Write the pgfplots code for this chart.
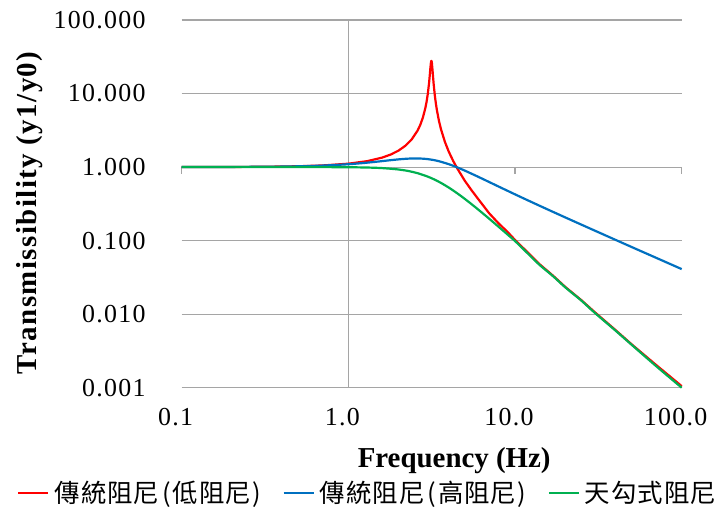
\documentclass[border=0pt]{standalone}
\usepackage{pgfplots}
\pgfplotsset{compat=1.18}
\usepackage{fontspec}
\setmainfont{Liberation Serif}
\newfontfamily\cjk[LetterSpace=4]{Noto Sans CJK TC}
\newfontfamily\tickfont[LetterSpace=5]{Liberation Serif}
\newfontfamily\ylabfont[LetterSpace=5]{Liberation Serif}
\definecolor{cred}{RGB}{255,0,0}
\definecolor{cblue}{RGB}{0,112,192}
\definecolor{cgreen}{RGB}{0,176,80}
\definecolor{cgrid}{RGB}{165,165,165}
\newcommand{\lt}[1]{\makebox[228bp][l]{#1}}
\begin{document}
\begin{tikzpicture}
\useasboundingbox (-181.7bp,-120.3bp) rectangle (540.3bp,387.7bp);
\begin{axis}[
  at={(0,0)}, anchor=south west, scale only axis,
  width=500bp, height=367.7bp,
  xmode=log, ymode=log,
  xmin=0.1, xmax=100, ymin=0.001, ymax=100,
  clip=false,
  axis line style={draw=none},
  tick style={draw=none},
  xtick={0.1,1,10,100}, xticklabels={0.1,1.0,10.0,100.0},
  ytick={0.001,0.01,0.1,1,10,100},
  yticklabels={0.001,0.010,0.100,1.000,10.000,100.000},
  ymajorgrids,
  major grid style={cgrid, line width=1.1bp},
  extra x ticks={1}, extra x tick labels={},
  extra x tick style={grid=major, tick style={draw=none}},
  xticklabel style={font=\tickfont\fontsize{26}{26}\selectfont, anchor=north, inner sep=0pt, yshift=-20bp, xshift=-6bp},
  yticklabel style={font=\tickfont\fontsize{26}{26}\selectfont, anchor=east, inner sep=0pt, xshift=-36bp},
  xlabel={Frequency (Hz)},
  xlabel style={font=\bfseries\fontsize{29}{29}\selectfont, at={(axis description cs:0.545,-0.198)}, anchor=center},
  ylabel={Transmissibility (y1/y0)},
  ylabel style={font=\ylabfont\bfseries\fontsize{29}{29}\selectfont, at={(axis description cs:-0.305,0.4755)}, anchor=center},
  legend columns=3,
  legend image code/.code={\draw[#1, line width=2.2bp] (0bp,0bp) -- (30bp,0bp);},
  legend style={at={(axis description cs:-0.329,-0.2853)}, anchor=west, draw=none, fill=none, inner sep=0pt,
    font=\cjk\fontsize{25.5}{25.5}\selectfont,
    nodes={inner xsep=0bp, inner ysep=0pt},
    /tikz/every odd column/.append style={column sep=5bp},
    /tikz/every even column/.append style={column sep=0bp}},
  every axis plot/.append style={line width=2.2bp, line join=round},
]
\draw[cgrid, line width=1.1bp] (axis cs:0.1,1) -- ([yshift=-7bp]axis cs:0.1,1);
\draw[cgrid, line width=1.1bp] (axis cs:10,1) -- ([yshift=-7bp]axis cs:10,1);
\draw[cgrid, line width=1.1bp] (axis cs:100,1) -- ([yshift=-7bp]axis cs:100,1);
\addplot[cred] coordinates {
(0.1,1.001) (0.2,1.004) (0.3,1.009) (0.5,1.026) (0.7,1.052) (1.0,1.112) (1.3,1.205) (1.6,1.348) (1.8,1.485) (2.0,1.675) (2.2,1.952) (2.4,2.384) (2.6,3.124) (2.7,3.744) (2.8,4.710) (2.9,6.41) (2.95,7.843) (3.0,10.09) (3.05,13.97) (3.08,17.76) (3.1,21.1) (3.11,22.94) (3.13,26.35) (3.14,27.44) (3.15,27.78) (3.16,27.27) (3.17,26.04) (3.19,22.46) (3.2,20.58) (3.22,17.22) (3.25,13.43) (3.3,9.565) (3.35,7.326) (3.4,5.898) (3.5,4.202) (3.6,3.238) (3.8,2.187) (4.0,1.628) (4.25,1.219) (4.5,0.961) (5,0.65) (5.5,0.48) (6,0.37) (7,0.235) (8,0.17) (9,0.132) (10,0.102) (12,0.068) (14,0.048) (17,0.033) (20,0.0235) (25,0.0155) (30,0.0107) (40,0.0061) (50,0.0039) (70,0.00205) (100,0.00105)
};
\addlegendentry{\lt{傳統阻尼\kern3bp(\kern2bp 低阻尼)}}
\addplot[cblue, smooth] coordinates {
(0.1,1.001) (0.3,1.009) (0.5,1.0248) (0.7,1.0477) (1.0,1.0934) (1.25,1.139) (1.5,1.1874) (1.75,1.2338) (2.0,1.2730) (2.25,1.2999) (2.5,1.3108) (2.8,1.3012) (3.0,1.2818) (3.25,1.2459) (3.5,1.2005) (4.0,1.0962) (4.5,0.9908) (5,0.8948) (6,0.7396) (7,0.6259) (8,0.5414) (10,0.4258) (12,0.3511) (15,0.2782) (20,0.2070) (30,0.1372) (50,0.0820) (70,0.0586) (100,0.0410)
};
\addlegendentry{\lt{傳統阻尼\kern3bp(\kern2bp 高阻尼)}}
\addplot[cgreen, smooth] coordinates {
(0.1,1.0) (0.3,1.0) (0.5,0.9997) (0.7,0.9988) (1.0,0.995) (1.3,0.9858) (1.6,0.9684) (2.0,0.9275) (2.3,0.8824) (2.6,0.8265) (3.0,0.7408) (3.3,0.6735) (3.6,0.608) (4.0,0.527) (4.5,0.440) (5,0.3689) (5.5,0.3117) (6,0.2657) (7,0.1986) (8,0.1532) (9,0.1216) (10,0.0987) (12,0.066) (14,0.047) (17,0.0325) (20,0.0232) (25,0.0153) (30,0.0105) (40,0.0060) (50,0.00385) (70,0.00198) (100,0.001)
};
\addlegendentry{天勾式阻尼}
\end{axis}
\end{tikzpicture}
\end{document}
